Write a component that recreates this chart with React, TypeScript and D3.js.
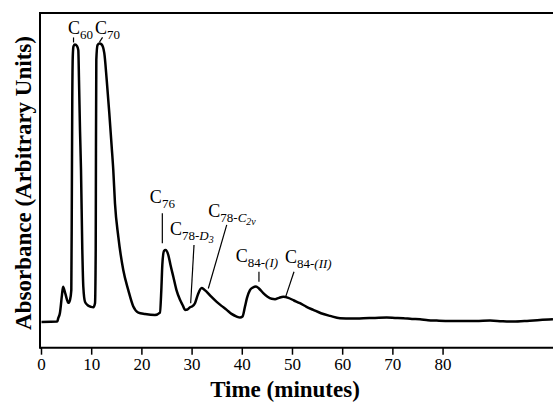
import * as d3 from 'd3'

const W = 553
const H = 404

// retention time (min) and detector signal
const times = [
  0, 3.13, 3.34, 3.66, 4.08, 4.3, 4.72, 5.36, 5.68, 5.94,
  6.04, 6.13, 6.24, 6.38, 6.67, 7.08, 7.33, 7.47, 7.67, 7.87,
  8.13, 8.33, 8.67, 9.26, 9.87, 10.32, 10.66, 10.8, 10.85, 10.92,
  11.16, 11.55, 11.99, 12.51, 12.99, 13.51, 13.98, 14.3, 14.64, 15.3,
  16.29, 17.29, 18.29, 19.29, 20.62, 22.61, 23.6, 23.87, 24.07, 24.4,
  24.71, 25.26, 25.7, 26.26, 26.89, 27.59, 28.19, 28.59, 29.09, 29.59,
  29.98, 30.58, 31.18, 31.91, 32.38, 32.91, 33.77, 34.9, 35.86, 36.9,
  37.85, 38.88, 39.55, 40.05, 40.54, 40.94, 41.53, 42.12, 42.73, 43.32,
  44.18, 45.03, 45.86, 46.52, 47.31, 48.17, 49.17, 50.3, 51.49, 52.8,
  54.15, 55.68, 57.48, 59.47, 61.86, 64.11, 66.44, 68.77, 70.42, 72.07,
  73.81, 75.4, 77.0, 78.73, 81.38, 84.03, 86.56, 89.35, 91.74, 93.99,
  96.72, 99.3, 101.89,
]
const absorbance = [
  7.7, 7.8, 8.8, 10.3, 15.8, 18.2, 16.3, 13.4, 14.3, 17.2,
  44.1, 74.0, 87.5, 90.1, 90.6, 90.1, 88.9, 80.0, 65.0, 53.1,
  29.2, 18.2, 13.7, 12.6, 12.2, 12.1, 13.3, 29.2, 59.0, 86.0,
  90.4, 90.9, 90.6, 88.0, 80.0, 70.0, 60.1, 53.1, 43.1, 33.2,
  23.2, 17.2, 12.3, 10.5, 10.1, 9.8, 10.5, 17.2, 24.7, 28.9,
  29.2, 27.7, 24.7, 21.2, 17.2, 14.3, 12.5, 11.3, 11.4, 12.1,
  12.3, 13.3, 16.0, 17.8, 17.4, 16.7, 15.3, 13.7, 12.5, 11.3,
  10.1, 9.3, 9.0, 9.3, 12.3, 14.9, 17.2, 18.0, 18.3, 17.7,
  16.3, 15.2, 14.6, 14.5, 14.9, 15.2, 14.9, 14.1, 13.3, 12.2,
  11.3, 10.3, 9.5, 8.8, 8.7, 8.8, 8.9, 9.0, 8.9, 8.8,
  8.6, 8.5, 8.2, 8.1, 8.0, 8.0, 8.0, 8.1, 7.9, 7.8,
  8.0, 8.3, 8.5,
]
const xTicks = [0, 10, 20, 30, 40, 50, 60, 70, 80]

// subscript pieces: lvl 1 = subscript, lvl 2 = sub-subscript
type Part = { t: string; it?: boolean; lvl?: number }
const peakNames: Part[][] = [
  [{ t: '60' }],
  [{ t: '70' }],
  [{ t: '76' }],
  [{ t: '78-' }, { t: 'D', it: true }, { t: '3', it: true, lvl: 2 }],
  [{ t: '78-' }, { t: 'C', it: true }, { t: '2v', it: true, lvl: 2 }],
  [{ t: '84-' }, { t: '(I)', it: true }],
  [{ t: '84-' }, { t: '(II)', it: true }],
]
// leader line [t0, a0, t1, a1] and label origin [t, a] in data units
const leaders = [
  [6.38, 91.2, 6.38, 92.7],
  [11.55, 91.3, 12.16, 92.7],
  [24.07, 31.2, 24.07, 40.2],
  [29.72, 13.3, 30.38, 30.7],
  [33.23, 17.7, 36.9, 36.7],
  [43.32, 19.7, 43.32, 22.7],
  [48.64, 15.2, 50.3, 22.7],
]
const labelAt = [
  [5.28, 93.7],
  [10.66, 93.7],
  [21.59, 43.1],
  [25.6, 33.7],
  [33.23, 39.1],
  [38.69, 25.7],
  [48.51, 25.2],
]

const serif = '"Liberation Serif", "DejaVu Serif", serif'
const lvlShift = [0, 5, 8]
const lvlSize = [18, 13, 10]

export default function App() {
  const x = d3.scaleLinear().domain([0, 101.9]).range([41.5, 553])
  const y = d3.scaleLinear().domain([0, 100]).range([347.7, 13])
  const left = 40

  const pts = times.map((t, i) => [t, absorbance[i]] as [number, number])
  const line = d3
    .line<[number, number]>()
    .x((d) => x(d[0]))
    .y((d) => y(d[1]))
    .curve(d3.curveMonotoneX)

  return (
    <svg
      width={W}
      height={H}
      style={{ position: 'absolute', left: 0, top: 0, background: '#fff' }}
      fontFamily={serif}
    >
      {/* frame */}
      <line x1={left} x2={W} y1={y(100)} y2={y(100)} stroke="#000" strokeWidth={2} />
      <line x1={left} x2={W} y1={y(0)} y2={y(0)} stroke="#000" strokeWidth={2} />
      <line x1={left} x2={left} y1={y(100) - 1} y2={y(0) + 1} stroke="#000" strokeWidth={2} />

      {/* x ticks */}
      {xTicks.map((t) => (
        <g key={t}>
          <line x1={x(t)} x2={x(t)} y1={y(0)} y2={y(0) + 7} stroke="#000" strokeWidth={1.5} />
          <text x={x(t)} y={370} textAnchor="middle" fontSize={17}>
            {t}
          </text>
        </g>
      ))}

      <path d={line(pts) ?? ''} fill="none" stroke="#000" strokeWidth={2.5} strokeLinejoin="round" />

      {/* peak labels */}
      {peakNames.map((parts, i) => {
        const [t0, a0, t1, a1] = leaders[i]
        const [tx, ax] = labelAt[i]
        let prev = 0
        return (
          <g key={i}>
            <line x1={x(t0)} y1={y(a0)} x2={x(t1)} y2={y(a1)} stroke="#000" strokeWidth={1.2} />
            <text x={x(tx)} y={y(ax)} fontSize={18}>
              C
              {parts.map((p, j) => {
                const lvl = p.lvl ?? 1
                const dy = lvlShift[lvl] - prev
                prev = lvlShift[lvl]
                return (
                  <tspan key={j} dy={dy} fontSize={lvlSize[lvl]} fontStyle={p.it ? 'italic' : 'normal'}>
                    {p.t}
                  </tspan>
                )
              })}
            </text>
          </g>
        )
      })}

      {/* axis titles */}
      <text x={285} y={397} textAnchor="middle" fontSize={23} fontWeight="bold">
        Time (minutes)
      </text>
      <text
        transform="translate(31,183) rotate(-90)"
        textAnchor="middle"
        fontSize={23}
        fontWeight="bold"
      >
        Absorbance (Arbitrary Units)
      </text>
    </svg>
  )
}
